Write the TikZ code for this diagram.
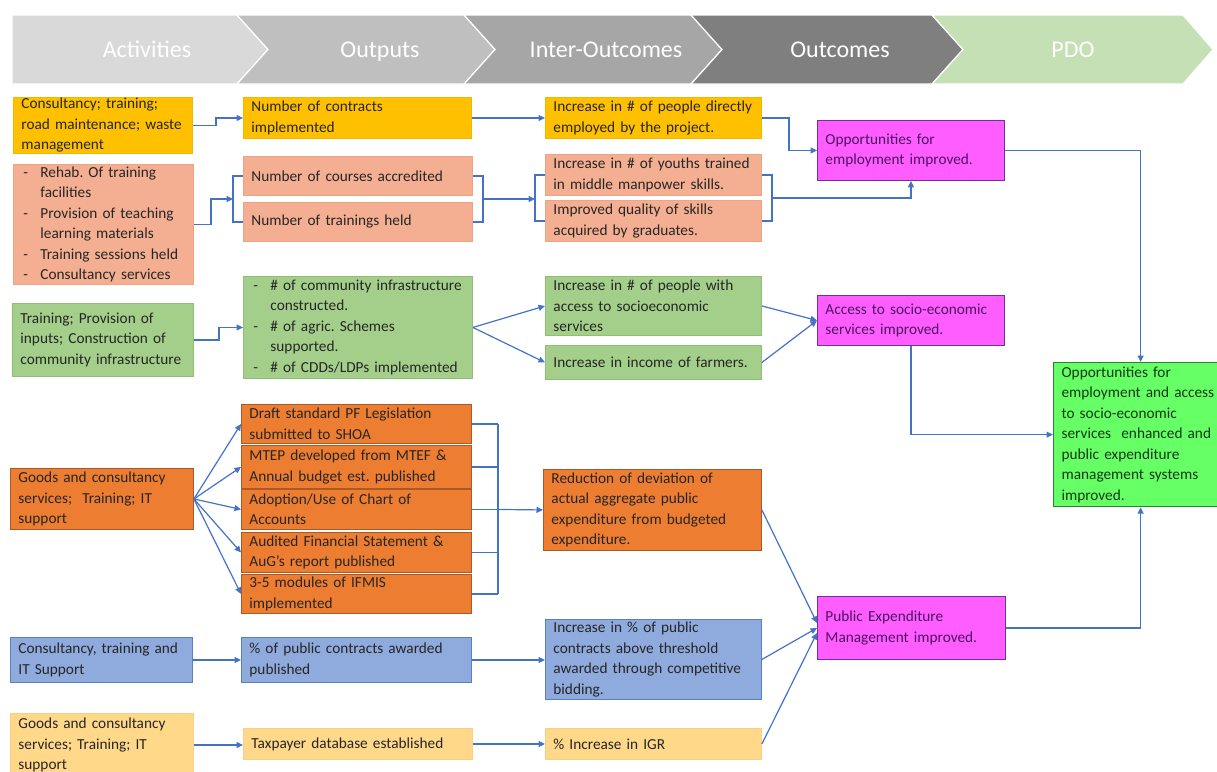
\documentclass[tikz,border=0pt]{standalone}
\usepackage{fontspec}
\setmainfont{Carlito}
\usetikzlibrary{arrows.meta,calc}
\definecolor{hdA}{HTML}{D9D9D9}
\definecolor{hdB}{HTML}{BFBFBF}
\definecolor{hdC}{HTML}{A6A6A6}
\definecolor{hdD}{HTML}{7F7F7F}
\definecolor{hdE}{HTML}{C5E0B4}
\definecolor{cYel}{HTML}{FFC000}
\definecolor{cYelD}{HTML}{F2B800}
\definecolor{cSal}{HTML}{F4AF92}
\definecolor{cSalD}{HTML}{EFA382}
\definecolor{cGrn}{HTML}{A4CF8B}
\definecolor{cGrnD}{HTML}{8FBF74}
\definecolor{cOra}{HTML}{ED7D31}
\definecolor{cOraD}{HTML}{A85A28}
\definecolor{cBlu}{HTML}{8FAADC}
\definecolor{cBluD}{HTML}{5B7FC4}
\definecolor{cLor}{HTML}{FFD88A}
\definecolor{cLorD}{HTML}{F7D085}
\definecolor{cMag}{HTML}{FF5DFF}
\definecolor{cMagD}{HTML}{7030A0}
\definecolor{cPdo}{HTML}{66FF66}
\definecolor{cPdoD}{HTML}{2F7F3A}
\definecolor{txt}{HTML}{262626}
\definecolor{txtM}{HTML}{4A1460}
\definecolor{txtG}{HTML}{123812}
\definecolor{lnk}{HTML}{4472C4}
\newcommand\mybox[7]{\node[box,#2,minimum width=#5pt,minimum height=#6pt,text width=\dimexpr#5pt-16pt\relax] (#1) at (#3,#4) {#7};}
\newcommand\bul[2]{\hspace*{2pt}\makebox[17pt][l]{-}#1\ifx\relax#2\relax\else\\\hspace*{19pt}#2\fi}
\frenchspacing
\begin{document}
\begin{tikzpicture}[x=1pt,y=-1pt,
  box/.style={rectangle,anchor=north west,line width=0.9pt,inner xsep=8pt,inner ysep=0pt,
    align=left,font=\fontsize{15.3}{20.5}\selectfont\frenchspacing,text=txt},
  yel/.style={fill=cYel,draw=cYelD},
  sal/.style={fill=cSal,draw=cSalD},
  grn/.style={fill=cGrn,draw=cGrnD},
  ora/.style={fill=cOra,draw=cOraD},
  blu/.style={fill=cBlu,draw=cBluD},
  lor/.style={fill=cLor,draw=cLorD},
  mag/.style={fill=cMag,draw=cMagD,text=txtM},
  pdo/.style={fill=cPdo,draw=cPdoD,line width=1.2pt,text=txtG},
  hdtext/.style={text=white,anchor=base,font=\fontsize{24}{28}\selectfont},
  chev/.style={draw=white,line width=1.2pt},
  link/.style={draw=lnk,line width=1.2pt},
  conn/.style={link,-{Triangle[length=6.5pt,width=6pt]}}]
\useasboundingbox (0,0) rectangle (1217,771);
\clip (0,0) rectangle (1217,771);
% header chevrons
\filldraw[chev,fill=hdA] (12,15) -- (237,15) -- (268,49.5) -- (237,84) -- (12,84) -- cycle;
\filldraw[chev,fill=hdB] (237,15) -- (464,15) -- (495,49.5) -- (464,84) -- (237,84) -- (268,49.5) -- cycle;
\filldraw[chev,fill=hdC] (464,15) -- (691,15) -- (722,49.5) -- (691,84) -- (464,84) -- (495,49.5) -- cycle;
\filldraw[chev,fill=hdD] (691,15) -- (932,15) -- (963,49.5) -- (932,84) -- (691,84) -- (722,49.5) -- cycle;
\filldraw[chev,fill=hdE] (932,15) -- (1183,15) -- (1213,49.5) -- (1183,84) -- (932,84) -- (963,49.5) -- cycle;
\node[hdtext] (h1) at (147,57) {Activities};
\node[hdtext] (h2) at (380,57) {Outputs};
\node[hdtext] (h3) at (606,57) {Inter-Outcomes};
\node[hdtext] (h4) at (840,57) {Outcomes};
\node[hdtext] (h5) at (1073,57) {PDO};
% row 1
\mybox{A1}{yel}{13}{97}{179}{56}{Consultancy; training;\\road maintenance; waste\\management}
\mybox{O1}{yel}{243}{97}{228}{41}{Number of contracts\\implemented}
\mybox{I1}{yel}{545}{97}{216}{41}{Increase in \# of people directly\\employed by the project.}
\mybox{OC1}{mag}{817}{120}{187}{60}{Opportunities for\\employment improved.}
% row 2
\mybox{A2}{sal}{13}{164}{180}{120}{\bul{Rehab. Of training}{facilities}\\\bul{Provision of teaching}{learning materials}\\\bul{Training sessions held}{}\\\bul{Consultancy services}{}}
\mybox{O2a}{sal}{243}{156}{229}{39}{Number of courses accredited}
\mybox{O2b}{sal}{243}{202}{229}{39}{Number of trainings held}
\mybox{I2a}{sal}{545}{154}{216}{41}{Increase in \# of youths trained\\in middle manpower skills.}
\mybox{I2b}{sal}{545}{200}{216}{41}{Improved quality of skills\\acquired by graduates.}
% row 3
\mybox{A3}{grn}{12}{303}{181}{73}{Training; Provision of\\inputs; Construction of\\community infrastructure}
\mybox{O3}{grn}{243}{276}{229}{102}{\bul{\# of community infrastructure}{constructed.}\\\bul{\# of agric. Schemes}{supported.}\\\bul{\# of CDDs/LDPs implemented}{}}
\mybox{I3a}{grn}{545}{276}{216}{59}{Increase in \# of people with\\access to socioeconomic\\services}
\mybox{I3b}{grn}{545}{345}{216}{34}{Increase in income of farmers.}
\mybox{OC2}{mag}{817}{295}{187}{50}{Access to socio-economic\\services improved.}
% PDO
\mybox{PDO}{pdo}{1053}{362}{174}{144}{Opportunities for\\employment and access\\to socio-economic\\services\ \ enhanced and\\public expenditure\\management systems\\improved.}
% row 4
\mybox{A4}{ora}{10}{468}{183}{61}{Goods and consultancy\\services;\ \ Training; IT\\support}
\mybox{O4a}{ora}{241}{404}{230}{39}{Draft standard PF Legislation\\submitted to SHOA}
\mybox{O4b}{ora}{241}{445}{230}{43}{MTEP developed from MTEF \&\\Annual budget est. published}
\mybox{O4c}{ora}{241}{489}{230}{40}{Adoption/Use of Chart of\\Accounts}
\mybox{O4d}{ora}{241}{532}{230}{40}{Audited Financial Statement \&\\AuG’s report published}
\mybox{O4e}{ora}{241}{574}{230}{39}{3-5 modules of IFMIS\\implemented}
\mybox{I4}{ora}{543}{469}{218}{81}{Reduction of deviation of\\actual aggregate public\\expenditure from budgeted\\expenditure.}
\mybox{OC3}{mag}{817}{596}{188}{63}{Public Expenditure\\Management improved.}
% row 5
\mybox{A5}{blu}{10}{637}{182}{45}{Consultancy, training and\\IT Support}
\mybox{O5}{blu}{241}{637}{230}{45}{\% of public contracts awarded\\published}
\mybox{I5}{blu}{545}{619}{216}{80}{Increase in \% of public\\contracts above threshold\\awarded through competitive\\bidding.}
% row 6
\mybox{A6}{lor}{10}{713}{183}{63}{Goods and consultancy\\services; Training; IT\\support}
\mybox{O6}{lor}{243}{728}{229}{31}{Taxpayer database established}
\mybox{I6}{lor}{545}{728}{216}{31}{\% Increase in IGR}
% connectors row 1
\draw[conn] (A1.east) -- ++(23,0) |- (O1.west);
\draw[conn] (O1.east) -- (I1.west);
\draw[conn] (I1.east) -- ++(27,0) |- (OC1.west);
% row 2 brackets
\coordinate (b2l) at ($(O2a.west)!0.5!(O2b.west)+(-10,0)$);
\coordinate (b2r) at ($(O2a.east)!0.5!(O2b.east)+(10,0)$);
\coordinate (b2i) at ($(I2a.west)!0.5!(I2b.west)+(-10,0)$);
\coordinate (b2o) at ($(I2a.east)!0.5!(I2b.east)+(10,0)$);
\draw[link] (O2a.west) -- ++(-10,0) |- (O2b.west);
\draw[link] (O2a.east) -- ++(10,0) |- (O2b.east);
\draw[link] (I2a.west) -- ++(-10,0) |- (I2b.west);
\draw[link] (I2a.east) -- ++(10,0) |- (I2b.east);
\draw[conn] (A2.east) -- ++(17,0) |- (b2l);
\draw[conn] (b2r) -- (b2r -| b2i);
\draw[conn] (b2o) -| (OC1.south);
% row 3
\draw[conn] (A3.east) -- ++(25,0) |- (O3.west);
\draw[conn] (O3.east) -- (I3a.west);
\draw[conn] (O3.east) -- (I3b.west);
\draw[conn] (I3a.east) -- (OC2.west);
\draw[conn] (I3b.east) -- (OC2.west);
% to PDO
\draw[conn] (OC1.east) -| (PDO.north);
\draw[conn] (OC2.south) |- (PDO.west);
\draw[conn] (OC3.east) -| (PDO.south);
% row 4
\foreach \n in {a,b,c,d,e} \draw[conn] (A4.east) -- (O4\n.west);
\coordinate (v4) at (498,0);
\foreach \n in {a,b,c,d,e} \draw[link] (O4\n.east) -- (O4\n.east -| v4);
\draw[link] (O4a.east -| v4) -- (O4e.east -| v4);
\draw[conn] (O4c.east -| v4) -- (I4.west);
\draw[conn] (I4.east) -- ($(OC3.west)+(0,-5)$);
% row 5
\draw[conn] (A5.east) -- (O5.west);
\draw[conn] (O5.east) -- (O5.east -| I5.west);
\draw[conn] (I5.east) -- (OC3.west);
% row 6
\draw[conn] (A6.east) -- (A6.east -| O6.west);
\draw[conn] (O6.east) -- (I6.west);
\draw[conn] (I6.east) -- ($(OC3.west)+(0,5)$);
\end{tikzpicture}
\end{document}
